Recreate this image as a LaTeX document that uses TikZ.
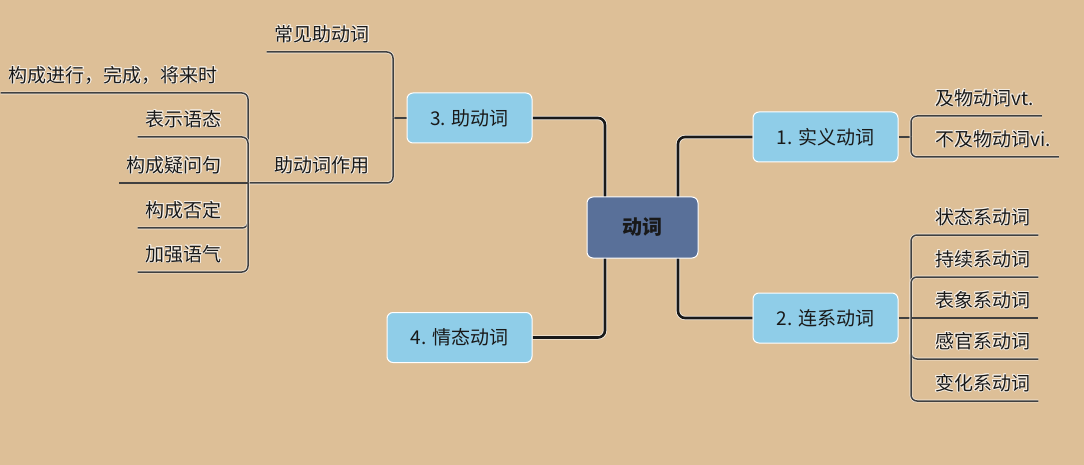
\documentclass[tikz,border=0pt]{standalone}
\usepackage{fontspec}
\setmainfont{Noto Sans CJK SC}
\usepackage{tikz}
\usepackage{contour}
\usetikzlibrary{backgrounds}

\definecolor{paper}{RGB}{221,191,151}
\definecolor{topicblue}{RGB}{143,205,232}
\definecolor{rootblue}{RGB}{89,112,153}
\definecolor{inkdark}{RGB}{25,25,25}
\definecolor{glowcol}{RGB}{245,238,228}
\contourlength{0.7pt}
\newcommand{\glow}[1]{\contour{glowcol}{#1}}

\tikzset{
  rootbox/.style={draw=white, line width=1pt, fill=rootblue, rounded corners=6pt,
    minimum width=111pt, minimum height=61pt, text=inkdark,
    font=\fontsize{20}{24}\selectfont\bfseries},
  topicbox/.style={draw=white, line width=1pt, fill=topicblue, rounded corners=6pt,
    minimum height=50pt, text=inkdark, font=\fontsize{19}{22}\selectfont},
  leafword/.style={inner xsep=8pt, inner ysep=5.5pt, text height=15pt, text depth=5pt,
    text=inkdark, font=\fontsize{19}{22}\selectfont},
  branch/.style={draw=black!90, line width=2.6pt, rounded corners=7pt,
    preaction={draw=white!75!paper, line width=4.2pt}},
  twig/.style={draw=black!75, line width=1.5pt, rounded corners=6pt,
    preaction={draw=white!75!paper, line width=2.8pt}},
}

\begin{document}
\begin{tikzpicture}[x=1pt, y=-1pt]
  \useasboundingbox (0,0) rectangle (1084,465);

  %% 中心与一级主题
  \node[rootbox] (root) at (642.5,227.5) {动词};
  \node[topicbox, minimum width=145pt] (real)  at (825.5,137)   {1. 实义动词};
  \node[topicbox, minimum width=145pt] (link)  at (825.5,318)   {2. 连系动词};
  \node[topicbox, minimum width=125pt] (aux)   at (469.5,118)   {3. 助动词};
  \node[topicbox, minimum width=145pt] (modal) at (459.5,337.5) {4. 情态动词};

  % 分叉点
  \coordinate (rtrunk)   at (678,227.5);
  \coordinate (ltrunk)   at (605,227.5);
  \coordinate (realfork) at (911,137);
  \coordinate (linkfork) at (911,318);
  \coordinate (auxfork)  at (393,118);
  \coordinate (usefork)  at (248,183);

  %% 右侧子项
  \node[leafword, anchor=south west] (vt) at (927,116) {\glow{及物动词vt.}};
  \node[leafword, anchor=south west] (vi) at (927,157) {\glow{不及物动词vi.}};
  \foreach \name/\y/\txt in {state/235/状态系动词, keep/277/持续系动词,
      seem/318/表象系动词, sense/359/感官系动词, change/401/变化系动词}
    \node[leafword, anchor=south west] (\name) at (927,\y) {\glow{\txt}};

  %% 左侧子项
  \node[leafword, anchor=south east] (common) at (378,52)  {\glow{常见助动词}};
  \node[leafword, anchor=south east] (use)    at (378,183) {\glow{助动词作用}};
  \node[leafword, anchor=south east] (tense)  at (226,93)  {\glow{构成进行，完成，将来时}};
  \node[leafword, anchor=south east] (voice)  at (230,137) {\glow{表示语态}};
  \node[leafword, anchor=south east] (ask)    at (230,183) {\glow{构成疑问句}};
  \node[leafword, anchor=south east] (deny)   at (230,228) {\glow{构成否定}};
  \node[leafword, anchor=south east] (stress) at (230,272) {\glow{加强语气}};

  \begin{scope}[on background layer]
    \fill[paper] (0,0) rectangle (1084,465);

    % 主干
    \draw[branch] (rtrunk) |- (real.west);
    \draw[branch] (rtrunk) |- (link.west);
    \draw[branch] (ltrunk) |- (aux.east);
    \draw[branch] (ltrunk) |- (modal.east);

    % 1. 实义动词
    \draw[twig] (real.east) -- (realfork);
    \foreach \leaf in {vt, vi}
      \draw[twig] (realfork) |- (\leaf.south west) -- (\leaf.south east);

    % 2. 连系动词
    \draw[twig] (link.east) -- (linkfork);
    \foreach \leaf in {state, keep, sense, change}
      \draw[twig] (linkfork) |- (\leaf.south west) -- (\leaf.south east);
    \draw[twig] (linkfork) -- (seem.south west) -- (seem.south east);

    % 3. 助动词
    \draw[twig] (aux.west) -- (auxfork);
    \draw[twig] (auxfork) |- (common.south east) -- (common.south west);
    \draw[twig] (auxfork) |- (use.south east) -- (use.south west) -- (usefork);
    \foreach \leaf in {tense, voice, deny, stress}
      \draw[twig] (usefork) |- (\leaf.south east) -- (\leaf.south west);
    \draw[twig] (usefork) -- (ask.south east) -- (ask.south west);
  \end{scope}
\end{tikzpicture}
\end{document}
